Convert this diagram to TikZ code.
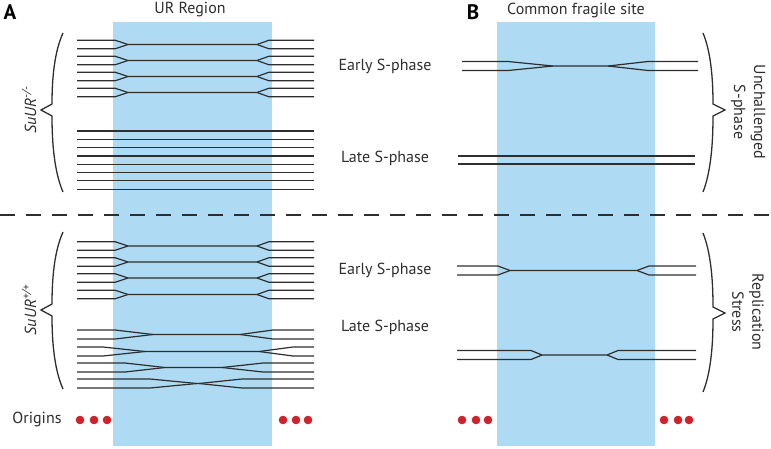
\documentclass[tikz,border=0pt]{standalone}
\usepackage{fontspec}
\setmainfont{PT Sans}
\usetikzlibrary{positioning}
\definecolor{regblue}{HTML}{AEDAF4}
\definecolor{origred}{HTML}{D0222A}
\definecolor{ink}{HTML}{2E2E2E}

\newcommand{\fork}[8]{%
  \draw[dna] (#3,#1-#2) -- (#4,#1-#2) -- (#5,#1) -- (#6,#1) -- (#7,#1-#2) -- (#8,#1-#2);
  \draw[dna] (#3,#1+#2) -- (#4,#1+#2) -- (#5,#1) (#6,#1) -- (#7,#1+#2) -- (#8,#1+#2);}
\newcommand{\sidebrace}[6]{%
  \draw[brc] (#1,#4) .. controls ({#1+0.8*(#2-#1)},{#4+0.25*(#5-#4)}) and (#2,{#4+0.6*(#5-#4)}) .. (#2,#5-6)
    -- (#3,#5) -- (#2,#5+6) .. controls (#2,{#5+0.4*(#6-#5)}) and ({#1+0.8*(#2-#1)},{#6-0.25*(#6-#5)}) .. (#1,#6);}

\begin{document}
\begin{tikzpicture}[x=1pt,y=-1pt,font=\fontsize{16}{20}\selectfont,text=ink,
  dna/.style={draw=ink,line width=1.2pt,line join=miter},
  brc/.style={draw=ink,line width=1.3pt},
  lbl/.style={inner sep=0pt},
  panel/.style={lbl,font=\fontsize{21}{21}\selectfont\bfseries,text=black}]
\useasboundingbox (0,0) rectangle (771,448);
\fill[regblue] (113,22) rectangle (272,446);
\fill[regblue] (497,22) rectangle (655,446);

\node[panel] (pa) at (10,12) {A};
\node[panel] (pb) at (473,12) {B};
\node[lbl] (ur) at (190,10) {UR Region};
\node[lbl] (cfs) at (576,10) {Common fragile site};

\foreach \y in {44.5,60.5,76.5,92.5} {\fork{\y}{4.3}{77}{115}{128}{257}{269}{314}}
\foreach \i in {0,...,7} \draw[dna] (77,131+8.3*\i) -- (314,131+8.3*\i);

\draw[line width=1.3pt,draw=ink,dash pattern=on 15pt off 11pt] (0,215) -- (771,215);

\foreach \y in {246,262,278,294.5} {\fork{\y}{4.3}{77}{115}{128}{257}{269}{314}}
\fork{334.5}{4.5}{77}{115}{153}{240}{273}{314}
\fork{351.5}{4.5}{77}{103}{145}{259}{293}{314}
\fork{367.5}{4.5}{77}{125}{165}{222}{263}{314}
\fork{383.5}{4.5}{77}{150}{197}{199}{242}{314}

\fork{66}{4.5}{462}{508}{553}{608}{648}{698}
\draw[dna] (458,156) -- (695,156) (458,164) -- (695,164);
\fork{270.5}{4.5}{457}{498}{510}{637}{649}{696}
\fork{355}{4.5}{457}{531}{542}{607}{618}{696}

\node[lbl] (earlya) at (385,66) {Early S-phase};
\node[lbl] (latea) at (385,158) {Late S-phase};
\node[lbl] (earlyb) at (385,270) {Early S-phase};
\node[lbl] (lateb) at (385,327) {Late S-phase};

\sidebrace{63}{52}{41}{33}{110}{192}
\sidebrace{63}{52}{41}{232}{310}{389}
\sidebrace{703}{713}{725}{33}{110}{192}
\sidebrace{703}{713}{725}{233}{313}{392}

\node[lbl,rotate=90] (mut) at (29,110) {\itshape SuUR\textsuperscript{-/-}};
\node[lbl,rotate=90] (wt) at (29,310) {\itshape SuUR\textsuperscript{+/+}};
\node[lbl,rotate=-90,align=center] (unch) at (748,112) {Unchallenged\\S-phase};
\node[lbl,rotate=-90,align=center] (stress) at (748,312) {Replication\\Stress};

\node[lbl] (orig) at (37,419) {Origins};
\foreach \x in {80,94,107,283,296,308,462,476,488,664,678,689}
  \fill[origred] (\x,420) circle (4.3pt);
\end{tikzpicture}
\end{document}
